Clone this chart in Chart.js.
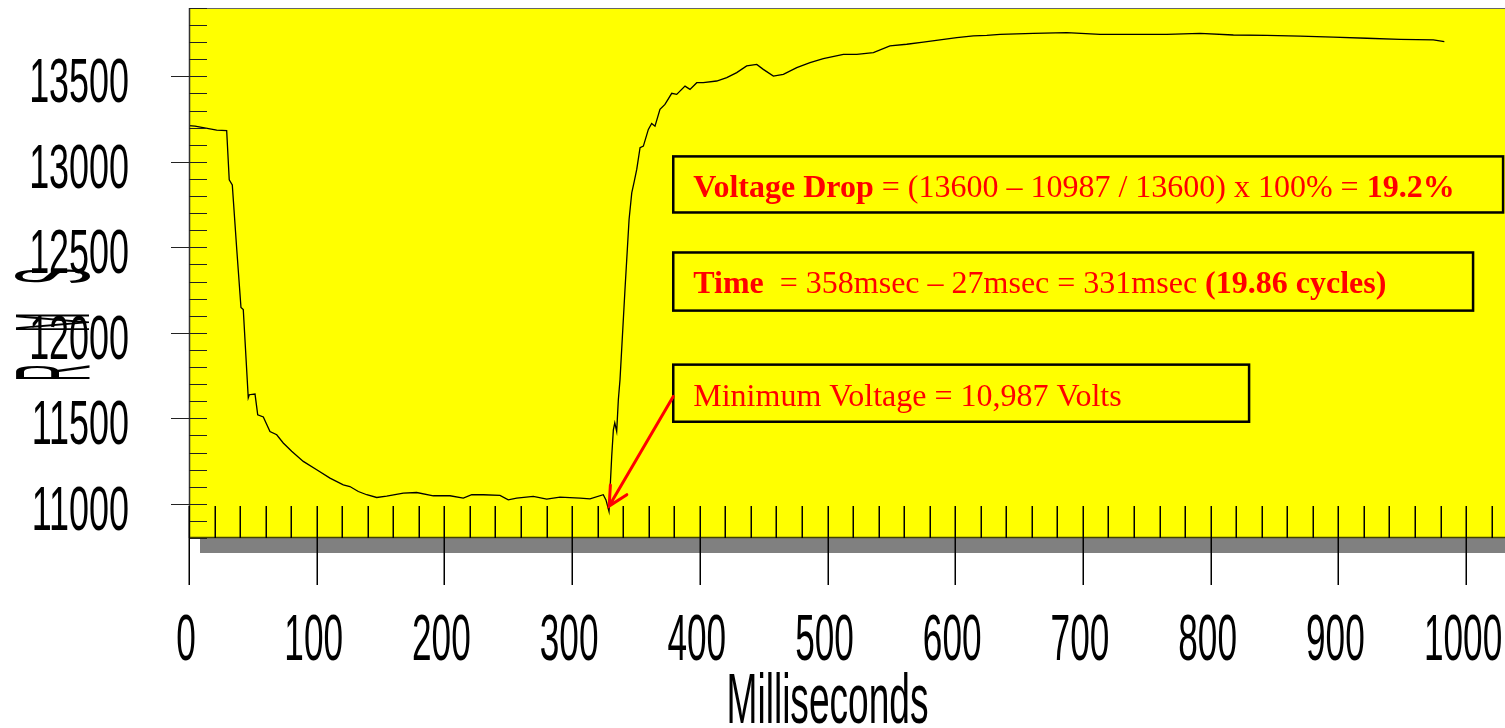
<!DOCTYPE html>
<html>
<head>
<meta charset="utf-8">
<script src="https://cdn.jsdelivr.net/npm/chart.js@4.4.0/dist/chart.umd.min.js"></script>
<style>
  html, body { margin: 0; padding: 0; background: #ffffff; }
  #wrap { width: 1505px; height: 728px; position: relative; }
</style>
</head>
<body>
<div id="wrap"><canvas id="c"></canvas></div>
<script>
// ---- Data ----
const timeMs = [0, 4.7, 21.7, 29.5, 31.5, 33.9, 37.4, 40.7, 42.5, 46.4, 47.2, 51.7, 53.8, 58.2, 63.4, 68.7, 73.8, 80.4, 89.5, 100,
  110.4, 120.8, 126, 132.6, 139.2, 147, 154.8, 167.8, 178.3, 191.3, 204.4, 214.8, 221.4, 230.5, 243.5, 250, 256.6, 269.6, 280.1, 290.5,
  306.2, 314, 324.4, 326.5, 328.9, 329.7, 331, 332.3, 333.4, 334.9, 336.2, 337.5, 341.4, 344.6, 346.7, 348.7, 350.6, 353.2, 355.8, 359.7,
  362.3, 364.9, 368.8, 372.7, 378, 381.9, 388.4, 392.3, 397.6, 402.7, 413.2, 421.1, 428.9, 436.7, 444.6, 449.7, 457.6, 465.4, 475.9, 486.3,
  496.7, 512.4, 522.9, 535.9, 548.9, 562, 575, 588.1, 601.2, 614.2, 624.7, 635.1, 661.2, 687.3, 713.4, 744.7, 765.6, 791.7, 817.8, 843.9,
  870, 896.1, 922.2, 948.3, 974.4, 983];
const voltsRms = [13212, 13209, 13186, 13183, 12895, 12865, 12487, 12148, 12136, 11620, 11638, 11642, 11521, 11508, 11423, 11404, 11356, 11307, 11248, 11199,
  11150, 11111, 11101, 11072, 11053, 11037, 11045, 11063, 11066, 11047, 11047, 11033, 11053, 11053, 11049, 11023, 11033, 11043, 11028, 11039,
  11033, 11029, 11053, 11023, 10955, 11082, 11277, 11433, 11473, 11423, 11609, 11726, 12253, 12663, 12819, 12887, 12956, 13083, 13092, 13190,
  13225, 13209, 13307, 13336, 13401, 13395, 13443, 13424, 13463, 13463, 13473, 13493, 13522, 13561, 13570, 13541, 13502, 13512, 13551, 13580,
  13604, 13629, 13629, 13639, 13678, 13688, 13701, 13713, 13727, 13737, 13740, 13746, 13752, 13756, 13746, 13746, 13746, 13752, 13742, 13740,
  13736, 13730, 13723, 13717, 13713, 13703];

const xTickLabels = [0, 100, 200, 300, 400, 500, 600, 700, 800, 900, 1000];
const yTickLabels = [11000, 11500, 12000, 12500, 13000, 13500];
const xTitle = "Milliseconds";
const yTitle = ["R", "M", "S"];

// Annotation boxes (data units) and their text runs
const boxes = [
  { x0: 379.2, x1: 1029, y0: 13032, y1: 12704,
    runs: [["Voltage Drop", true], [" = (13600 \u2013 10987 / 13600) x 100% = ", false], ["19.2%", true]] },
  { x0: 379.2, x1: 1005.5, y0: 12470, y1: 12130,
    runs: [["Time", true], ["  = 358msec \u2013 27msec = 331msec ", false], ["(19.86 cycles)", true]] },
  { x0: 379.2, x1: 830.1, y0: 11814, y1: 11480,
    runs: [["Minimum Voltage = 10,987 Volts", false]] }
];
const arrowFrom = { x: 379.2, y: 11628 };
const arrowTo = { x: 329, y: 10987 };

// ---- Drawing plugin ----
const decor = {
  id: 'decor',
  beforeDraw(chart) {
    const ctx = chart.ctx, a = chart.chartArea;
    ctx.save();
    ctx.fillStyle = '#ffffff';
    ctx.fillRect(0, 0, chart.width, chart.height);
    ctx.fillStyle = '#808080';
    ctx.fillRect(a.left + 11, a.bottom, a.right - a.left, 15);
    ctx.fillStyle = '#ffff00';
    ctx.fillRect(a.left, a.top, a.right - a.left, a.bottom - a.top);
    ctx.restore();
  },
  afterDraw(chart) {
    const ctx = chart.ctx, a = chart.chartArea;
    const xs = chart.scales.x, ys = chart.scales.y;
    ctx.save();
    ctx.strokeStyle = '#666666';
    ctx.lineWidth = 1;
    ctx.beginPath();
    ctx.moveTo(a.left, a.top + 0.5); ctx.lineTo(a.right, a.top + 0.5);
    ctx.stroke();
    ctx.strokeStyle = '#333333';
    ctx.lineWidth = 1.5;
    ctx.beginPath();
    ctx.moveTo(a.left + 0.5, a.top); ctx.lineTo(a.left + 0.5, a.bottom);
    ctx.stroke();
    ctx.strokeStyle = '#444400';
    ctx.beginPath();
    ctx.moveTo(a.left, a.bottom - 0.5); ctx.lineTo(a.right, a.bottom - 0.5);
    ctx.stroke();

    ctx.strokeStyle = '#222222';
    ctx.lineWidth = 1;
    for (let v = ys.min; v <= ys.max; v += 100) {
      const y = Math.round(ys.getPixelForValue(v)) + 0.5;
      const major = v % 500 === 0;
      ctx.beginPath();
      ctx.moveTo(major ? a.left - 18 : a.left, y);
      ctx.lineTo(a.left + 18, y);
      ctx.stroke();
    }
    ctx.strokeStyle = '#000000';
    ctx.lineWidth = 1.5;
    for (let v = 0; v <= xs.max; v += 20) {
      const x = Math.round(xs.getPixelForValue(v)) + 0.25;
      const major = v % 100 === 0;
      ctx.beginPath();
      ctx.moveTo(x, a.bottom - 32);
      ctx.lineTo(x, major ? a.bottom + 47 : a.bottom);
      ctx.stroke();
    }

    ctx.fillStyle = '#000000';
    ctx.textBaseline = 'alphabetic';
    ctx.font = '63px "Liberation Sans", Arial, sans-serif';
    yTickLabels.forEach(v => {
      const y = ys.getPixelForValue(v);
      ctx.save();
      ctx.translate(129, y + 26);
      ctx.scale(0.57, 1);
      ctx.textAlign = 'right';
      ctx.fillText(String(v), 0, 0);
      ctx.restore();
    });
    ctx.font = '64px "Liberation Sans", Arial, sans-serif';
    xTickLabels.forEach(v => {
      const x = xs.getPixelForValue(v);
      ctx.save();
      ctx.translate(x - 3, 660);
      ctx.scale(0.55, 1);
      ctx.textAlign = 'center';
      ctx.fillText(String(v), 0, 0);
      ctx.restore();
    });
    ctx.font = '70px "Liberation Sans", Arial, sans-serif';
    ctx.save();
    ctx.translate(xs.getPixelForValue(500), 723);
    ctx.scale(0.53, 1);
    ctx.textAlign = 'center';
    ctx.fillText(xTitle, 0, 0);
    ctx.restore();
    ctx.font = '106px "Liberation Sans", Arial, sans-serif';
    const yBottoms = [381, 332, 284];
    yTitle.forEach((ch, i) => {
      ctx.save();
      ctx.translate(89, yBottoms[i]);
      ctx.rotate(-Math.PI / 2);
      ctx.scale(0.22, 1);
      ctx.textAlign = 'left';
      ctx.fillText(ch, 0, 0);
      ctx.restore();
    });

    boxes.forEach(b => {
      const x0 = xs.getPixelForValue(b.x0), x1 = xs.getPixelForValue(b.x1);
      const y0 = ys.getPixelForValue(b.y0), y1 = ys.getPixelForValue(b.y1);
      ctx.strokeStyle = '#000000';
      ctx.lineWidth = 2.5;
      ctx.strokeRect(x0, y0, x1 - x0, y1 - y0);
      let tx = x0 + 20;
      const ty = y0 + 41;
      ctx.fillStyle = '#ff0000';
      ctx.textAlign = 'left';
      b.runs.forEach(([t, bold]) => {
        ctx.font = (bold ? 'bold ' : '') + '32px "Liberation Serif", "Times New Roman", serif';
        ctx.fillText(t, tx, ty);
        tx += ctx.measureText(t).width;
      });
    });

    const sx = xs.getPixelForValue(arrowFrom.x), sy = ys.getPixelForValue(arrowFrom.y);
    const ex = xs.getPixelForValue(arrowTo.x), ey = ys.getPixelForValue(arrowTo.y);
    ctx.strokeStyle = '#ff0000';
    ctx.lineWidth = 3;
    ctx.lineCap = 'round';
    ctx.beginPath();
    ctx.moveTo(sx, sy); ctx.lineTo(ex, ey);
    const ang = Math.atan2(sy - ey, sx - ex);
    const hl = 21, spread = 0.47;
    ctx.moveTo(ex + hl * Math.cos(ang - spread), ey + hl * Math.sin(ang - spread));
    ctx.lineTo(ex, ey);
    ctx.lineTo(ex + hl * Math.cos(ang + spread), ey + hl * Math.sin(ang + spread));
    ctx.stroke();
    ctx.restore();
  }
};

new Chart(document.getElementById('c'), {
  type: 'line',
  data: {
    datasets: [{
      data: timeMs.map((t, i) => ({ x: t, y: voltsRms[i] })),
      borderColor: '#000000',
      borderWidth: 1.3,
      pointRadius: 0,
      tension: 0,
      fill: false
    }]
  },
  options: {
    responsive: true,
    maintainAspectRatio: false,
    devicePixelRatio: 1,
    animation: false,
    events: [],
    layout: { padding: { top: 8, right: 0, left: 0, bottom: 0 } },
    plugins: { legend: { display: false }, tooltip: { enabled: false }, title: { display: false } },
    scales: {
      x: {
        type: 'linear', min: 0, max: 1030.5,
        ticks: { display: false }, grid: { display: false }, border: { display: false },
        afterFit(s) { s.height = 190; }
      },
      y: {
        type: 'linear', min: 10800, max: 13900,
        ticks: { display: false }, grid: { display: false }, border: { display: false },
        afterFit(s) { s.width = 189; }
      }
    }
  },
  plugins: [decor]
});
</script>
</body>
</html>
